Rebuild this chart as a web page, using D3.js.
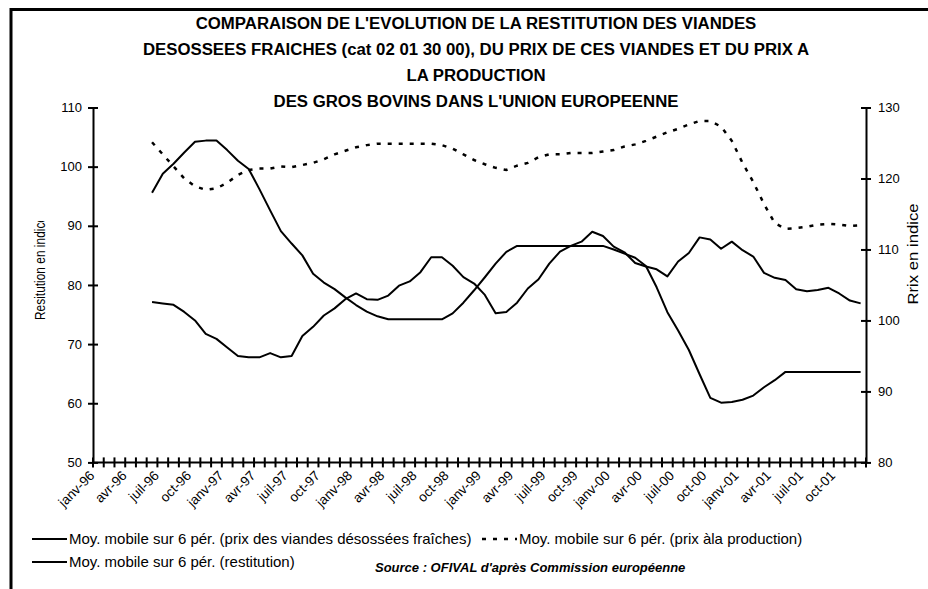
<!DOCTYPE html>
<html>
<head>
<meta charset="utf-8">
<script src="https://cdn.jsdelivr.net/npm/d3@7"></script>
<style>
  body { margin: 0; background: #fff; }
  text { font-family: Arial, "Liberation Sans", sans-serif; fill: #000; }
</style>
</head>
<body>
<script>
var width = 928,
  height = 589;

// categories: one per month, janv-96 .. déc-01
var years = ["96", "97", "98", "99", "00", "01"];
var monthNames = ["janv", "févr", "mars", "avr", "mai", "juin", "juil", "août", "sept", "oct", "nov", "déc"];
var labelledMonths = ["janv", "avr", "juil", "oct"];

// moving averages start at juin-96 (6th month)
var firstMonth = 5;

// left axis: restitution (indice)
var restitution = [
  95.6, 98.8, 100.5, 102.4, 104.2, 104.4, 104.4, 102.8, 101.0, 99.6,
  96.2, 92.6, 89.1, 87.0, 85.0, 81.9, 80.4, 79.3, 77.9, 76.6,
  75.5, 74.7, 74.2, 74.2, 74.2, 74.2, 74.2, 74.2, 75.2, 77.0,
  79.1, 81.3, 83.6, 85.6, 86.6, 86.6, 86.6, 86.6, 86.6, 86.6,
  86.6, 86.6, 86.6, 86.0, 85.3, 84.6, 83.2, 79.6, 75.4, 72.3,
  69.0, 64.9, 60.9, 60.1, 60.2, 60.6, 61.3, 62.7, 63.9, 65.3,
  65.3, 65.3, 65.3, 65.3, 65.3, 65.3, 65.3
];

// right axis: prix des viandes désossées fraîches (indice)
var prixViandes = [
  102.6, 102.4, 102.2, 101.2, 100.0, 98.1, 97.4, 96.2, 95.0, 94.8,
  94.8, 95.4, 94.8, 95.0, 97.8, 99.1, 100.7, 101.7, 103.0, 103.8,
  103.0, 102.9, 103.5, 104.9, 105.5, 106.8, 108.9, 108.9, 107.7, 106.1,
  105.2, 103.6, 101.0, 101.2, 102.5, 104.5, 105.8, 108.0, 109.7, 110.5,
  111.1, 112.5, 111.9, 110.4, 109.6, 108.1, 107.6, 107.2, 106.2, 108.3,
  109.5, 111.7, 111.4, 110.1, 111.1, 109.9, 109.0, 106.7, 106.0, 105.7,
  104.4, 104.1, 104.3, 104.6, 103.8, 102.8, 102.4
];

// right axis: prix à la production (indice)
var prixProduction = [
  125.1, 123.4, 121.7, 120.0, 118.9, 118.4, 118.6, 119.4, 120.5, 121.2,
  121.4, 121.4, 121.7, 121.6, 121.9, 122.2, 122.7, 123.4, 123.9, 124.4,
  124.7, 124.9, 124.9, 124.9, 124.9, 124.9, 124.9, 124.7, 124.2, 123.4,
  122.6, 122.0, 121.5, 121.2, 121.8, 122.2, 123.0, 123.4, 123.4, 123.6,
  123.6, 123.6, 123.8, 124.0, 124.5, 124.8, 125.3, 125.9, 126.5, 127.0,
  127.6, 128.1, 128.1, 127.3, 125.3, 122.2, 119.5, 116.4, 113.7, 112.9,
  113.0, 113.2, 113.5, 113.6, 113.5, 113.3, 113.4
];

var leftTicks = [50, 60, 70, 80, 90, 100, 110];
var rightTicks = [80, 90, 100, 110, 120, 130];

var titleLines = [
  "COMPARAISON DE L'EVOLUTION DE LA RESTITUTION DES VIANDES",
  "DESOSSEES FRAICHES (cat 02 01 30 00), DU PRIX DE CES VIANDES ET DU PRIX A",
  "LA PRODUCTION",
  "DES GROS BOVINS DANS L'UNION EUROPEENNE"
];

var months = [];
years.forEach(function(y) {
  monthNames.forEach(function(m) {
    months.push(m + "-" + y);
  });
});

var plotLeft = 93, plotRight = 866, plotTop = 107.5, plotBottom = 462.4;

var x = d3.scaleBand()
  .domain(months)
  .range([plotLeft, plotRight]);

var yLeft = d3.scaleLinear()
  .domain([50, 110])
  .range([plotBottom, plotTop]);

var yRight = d3.scaleLinear()
  .domain([80, 130])
  .range([plotBottom, plotTop]);

function cx(i) {
  return x(months[i + firstMonth]) + x.bandwidth() / 2;
}

var svg = d3.select("body").append("svg")
  .attr("width", width)
  .attr("height", height);

svg.append("rect")
  .attr("width", width)
  .attr("height", height)
  .attr("fill", "#fff");

// outer frame (only left and top edges fall inside the picture)
svg.append("path")
  .attr("d", "M11," + height + "V9.5H" + width)
  .attr("fill", "none")
  .attr("stroke", "#000")
  .attr("stroke-width", 3);

// title
svg.append("g")
  .selectAll("text")
  .data(titleLines)
  .enter().append("text")
    .attr("x", 476)
    .attr("y", function(d, i) { return 29 + i * 26; })
    .attr("text-anchor", "middle")
    .attr("font-size", "16.8px")
    .attr("font-weight", "bold")
    .text(function(d) { return d; });

// left axis
var leftAxis = svg.append("g")
  .attr("transform", "translate(" + plotLeft + ",0)")
  .call(d3.axisLeft(yLeft).tickValues(leftTicks).tickSize(5).tickSizeOuter(0).tickPadding(6));

// right axis
var rightAxis = svg.append("g")
  .attr("transform", "translate(" + plotRight + ",0)")
  .call(d3.axisRight(yRight).tickValues(rightTicks).tickSize(5).tickSizeOuter(0).tickPadding(7));

[leftAxis, rightAxis].forEach(function(a, k) {
  a.select(".domain").attr("stroke-width", 2);
  a.selectAll(".tick line")
    .attr("stroke-width", 2)
    .attr("x1", k === 0 ? 5 : -5);
  a.selectAll(".tick text")
    .attr("font-size", "13px")
    .attr("font-family", "Arial, 'Liberation Sans', sans-serif")
    .attr("fill", "#000");
});

// category axis: line, ticks on month boundaries, labels every quarter
var xAxis = svg.append("g");

xAxis.append("line")
  .attr("x1", plotLeft)
  .attr("x2", plotRight)
  .attr("y1", plotBottom)
  .attr("y2", plotBottom)
  .attr("stroke", "#000")
  .attr("stroke-width", 2);

var boundaries = months.map(function(m) { return x(m); }).concat([x.range()[1]]);

xAxis.selectAll("line.tick")
  .data(boundaries)
  .enter().append("line")
    .attr("class", "tick")
    .attr("x1", function(d) { return d; })
    .attr("x2", function(d) { return d; })
    .attr("y1", plotBottom - 5)
    .attr("y2", plotBottom + 5)
    .attr("stroke", "#000")
    .attr("stroke-width", 2);

xAxis.selectAll("text")
  .data(months.filter(function(m) {
    return labelledMonths.indexOf(m.split("-")[0]) >= 0;
  }))
  .enter().append("text")
    .attr("text-anchor", "end")
    .attr("font-size", "13.5px")
    .attr("transform", function(d) {
      return "translate(" + (x(d) + x.bandwidth() / 2 - 3) + "," + (plotBottom + 14) + ") rotate(-45)";
    })
    .text(function(d) { return d; });

// axis titles (the left one is cut off in the original)
svg.append("clipPath")
  .attr("id", "clipLeft")
  .append("rect")
    .attr("x", 20)
    .attr("y", 221)
    .attr("width", 40)
    .attr("height", 120);

svg.append("g")
  .attr("clip-path", "url(#clipLeft)")
  .append("text")
    .attr("transform", "translate(45,320) rotate(-90)")
    .attr("font-size", "14.5px")
    .attr("textLength", 104)
    .attr("lengthAdjust", "spacingAndGlyphs")
    .text("Resitution en indice");

svg.append("text")
  .attr("transform", "translate(918,254) rotate(-90)")
  .attr("text-anchor", "middle")
  .attr("font-size", "14.5px")
  .attr("textLength", 101)
  .attr("lengthAdjust", "spacingAndGlyphs")
  .text("Rrix en indice");

// series
var line = d3.line()
  .x(function(d, i) { return cx(i); });

svg.append("path")
  .datum(prixProduction)
  .attr("fill", "none")
  .attr("stroke", "#000")
  .attr("stroke-width", 2.5)
  .attr("stroke-dasharray", "4,7")
  .attr("d", line.y(function(d) { return yRight(d); }));

svg.append("path")
  .datum(prixViandes)
  .attr("fill", "none")
  .attr("stroke", "#000")
  .attr("stroke-width", 2)
  .attr("stroke-linejoin", "round")
  .attr("d", line.y(function(d) { return yRight(d); }));

svg.append("path")
  .datum(restitution)
  .attr("fill", "none")
  .attr("stroke", "#000")
  .attr("stroke-width", 2)
  .attr("stroke-linejoin", "round")
  .attr("d", line.y(function(d) { return yLeft(d); }));

// legend
var legendItems = [
  { label: "Moy. mobile sur 6 pér. (prix des viandes désossées fraîches)", dash: null, x: 32, y: 539 },
  { label: "Moy. mobile sur 6 pér. (prix àla production)", dash: "4,7", x: 482, y: 539 },
  { label: "Moy. mobile sur 6 pér. (restitution)", dash: null, x: 32, y: 562 }
];

var legend = svg.append("g")
  .selectAll("g")
  .data(legendItems)
  .enter().append("g")
    .attr("transform", function(d) { return "translate(" + d.x + "," + d.y + ")"; });

legend.append("line")
  .attr("x1", 0)
  .attr("x2", 35)
  .attr("stroke", "#000")
  .attr("stroke-width", function(d) { return d.dash ? 2.5 : 2; })
  .attr("stroke-dasharray", function(d) { return d.dash; });

legend.append("text")
  .attr("x", 37)
  .attr("y", 5)
  .attr("font-size", "15px")
  .text(function(d) { return d.label; });

svg.append("text")
  .attr("x", 375)
  .attr("y", 572)
  .attr("font-size", "13px")
  .attr("font-weight", "bold")
  .attr("font-style", "italic")
  .text("Source : OFIVAL d'après Commission européenne");
</script>
</body>
</html>
